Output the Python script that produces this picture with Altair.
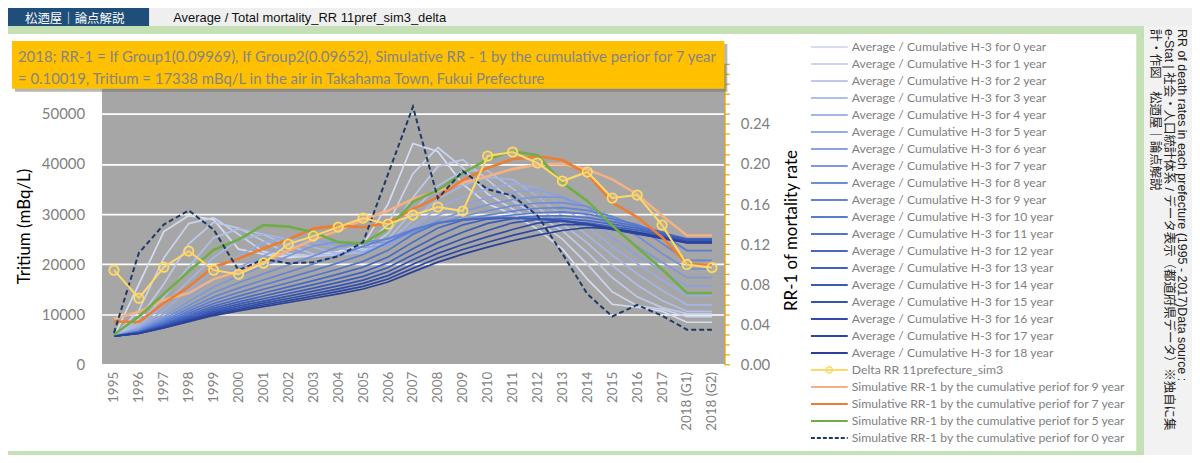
import altair as alt
import pandas as pd

# ---------------- data ----------------
years = [str(y) for y in range(1995, 2018)] + ["2018 (G1)", "2018 (G2)"]

h3_00 = [5600, 16000, 26500, 29700, 28900, 23000, 22000, 21300, 21700, 22500, 23900, 32000, 44100, 42500, 36000, 32000, 30000, 27000, 23000, 17000, 12000, 11400, 10600, 8400, 8400]
h3_01 = [5600, 10800, 21250, 28100, 29300, 25950, 22500, 21650, 21500, 22100, 23200, 27950, 38050, 43300, 39250, 34000, 31000, 28500, 25000, 20000, 14500, 11700, 11000, 9500, 9500]
h3_02 = [5600, 9070, 16030, 24070, 28370, 27200, 24630, 22100, 21670, 21830, 22700, 26130, 33330, 39530, 40870, 36830, 32670, 29670, 26670, 22330, 17330, 13470, 11330, 10130, 10130]
h3_03 = [5600, 8200, 13430, 19450, 25280, 27030, 25900, 23800, 22000, 21880, 22350, 25030, 30630, 35630, 38650, 38650, 35130, 31250, 28000, 24250, 19750, 15850, 12750, 10600, 10600]
h3_04 = [5600, 7680, 11860, 16680, 21340, 24820, 26020, 24980, 23380, 22100, 22280, 24280, 28840, 33000, 35700, 37320, 36920, 33500, 29600, 25800, 21800, 18080, 14800, 11880, 11880]
h3_05 = [5600, 7330, 10820, 14830, 18720, 21620, 24350, 25230, 24430, 23230, 22400, 23900, 27580, 31120, 33500, 35080, 36100, 35270, 31750, 27500, 23500, 20070, 16830, 13730, 13730]
h3_06 = [5600, 7090, 10070, 13510, 16840, 19330, 21670, 23910, 24730, 24160, 23330, 23770, 26790, 29710, 31810, 33290, 34360, 34800, 33510, 29640, 25290, 21770, 18710, 15630, 15630]
h3_07 = [5600, 6900, 9510, 12530, 15440, 17610, 19660, 21630, 23640, 24450, 24130, 24410, 26310, 28750, 30500, 31840, 32880, 33440, 33330, 31450, 27440, 23550, 20380, 17338, 17338]
h3_08 = [5600, 6760, 9080, 11760, 14340, 16280, 18100, 19840, 21630, 23510, 24390, 25000, 26600, 28110, 29560, 30670, 31630, 32220, 32280, 31510, 29290, 25660, 22110, 19040, 19040]
h3_09 = [5600, 6640, 8730, 11140, 13470, 15210, 16850, 18420, 20030, 21720, 23550, 25150, 26910, 28190, 28900, 29800, 30600, 31170, 31300, 30750, 29560, 27500, 24150, 20740, 20740]
h3_10 = [5600, 6550, 8450, 10640, 12760, 14340, 15830, 17260, 18720, 20260, 21920, 24320, 26870, 28330, 28900, 29180, 29820, 30270, 30430, 30000, 29050, 27910, 25960, 22720, 22720]
h3_11 = [5600, 6470, 8210, 10220, 12160, 13610, 14980, 16280, 17630, 19030, 20560, 22760, 25970, 28180, 28970, 29160, 29250, 29580, 29670, 29310, 28500, 27580, 26470, 24500, 24500]
h3_12 = [5600, 6400, 8010, 9860, 11650, 12990, 14250, 15460, 16700, 18000, 19410, 21440, 24400, 27240, 28780, 29200, 29220, 29080, 29080, 28690, 27980, 27190, 26270, 25080, 25080]
h3_13 = [5600, 6340, 7840, 9560, 11220, 12460, 13640, 14760, 15910, 17110, 18420, 20310, 23060, 25690, 27860, 29010, 29260, 29060, 28640, 28210, 27500, 26790, 26000, 24990, 24990]
h3_14 = [5600, 6290, 7690, 9290, 10850, 12010, 13100, 14150, 15220, 16350, 17570, 19330, 21890, 24350, 26380, 28140, 29070, 29110, 28660, 27870, 27130, 26430, 25710, 24830, 24830]
h3_15 = [5600, 6250, 7560, 9060, 10520, 11610, 12630, 13610, 14620, 15680, 16820, 18470, 20880, 23180, 25080, 26730, 28260, 28940, 28730, 27930, 26880, 26150, 25440, 24630, 24630]
h3_16 = [5600, 6210, 7440, 8860, 10230, 11250, 12220, 13140, 14090, 15080, 16160, 17710, 19980, 22150, 23940, 25490, 26920, 28180, 28590, 28040, 26990, 25970, 25240, 24440, 24440]
h3_17 = [5600, 6180, 7340, 8680, 9970, 10940, 11850, 12720, 13620, 14560, 15570, 17040, 19180, 21230, 22920, 24380, 25740, 26930, 27890, 27950, 27140, 26130, 25110, 24300, 24300]
h3_18 = [5600, 6150, 7250, 8520, 9740, 10660, 11520, 12350, 13200, 14080, 15050, 16440, 18460, 20410, 22010, 23400, 24680, 25810, 26720, 27320, 27110, 26320, 25310, 24230, 24230]

delta_rr = [0.094, 0.066, 0.097, 0.113, 0.094, 0.090, 0.101, 0.120, 0.128, 0.137, 0.146, 0.140, 0.149, 0.157, 0.153, 0.208, 0.212, 0.201, 0.183, 0.192, 0.166, 0.169, 0.139, 0.09969, 0.09652]
sim_rr_9 = [0.0455, 0.0524, 0.0643, 0.0712, 0.0851, 0.0930, 0.1019, 0.1137, 0.1246, 0.1335, 0.1444, 0.1533, 0.1652, 0.1731, 0.1813, 0.1879, 0.1949, 0.1995, 0.2001, 0.1946, 0.1847, 0.1698, 0.1484, 0.1286, 0.1286]
sim_rr_7 = [0.0428, 0.0422, 0.0610, 0.0774, 0.0972, 0.1055, 0.1157, 0.1246, 0.1355, 0.1385, 0.1368, 0.1414, 0.1550, 0.1670, 0.1840, 0.1960, 0.2047, 0.2077, 0.2040, 0.1900, 0.1615, 0.1470, 0.1270, 0.10019, 0.0995]
sim_rr_5 = [0.0297, 0.0478, 0.0702, 0.0930, 0.1142, 0.1246, 0.1390, 0.1375, 0.1320, 0.1220, 0.1207, 0.1355, 0.1622, 0.1741, 0.1909, 0.2047, 0.2127, 0.2087, 0.1813, 0.1632, 0.1385, 0.1167, 0.0950, 0.0712, 0.0712]
sim_rr_0 = [0.0314, 0.1113, 0.1395, 0.1537, 0.1345, 0.0940, 0.1048, 0.1009, 0.1019, 0.1078, 0.1220, 0.1899, 0.2572, 0.1657, 0.1929, 0.1748, 0.1684, 0.1484, 0.1105, 0.0702, 0.0478, 0.0593, 0.0485, 0.0346, 0.0346]

blue_series = [h3_00, h3_01, h3_02, h3_03, h3_04, h3_05, h3_06, h3_07, h3_08, h3_09,
               h3_10, h3_11, h3_12, h3_13, h3_14, h3_15, h3_16, h3_17, h3_18]
blue_names = ["Average / Cumulative H-3 for %d year" % k for k in range(19)]
blue_colors = ["#D6DCF2", "#CAD3EF", "#BECAEC", "#B1C0E9", "#A4B6E6", "#97ACE3", "#8AA2E0",
               "#7D98DC", "#708ED8", "#6585D4", "#5A7CD0", "#5073CB", "#4769C5", "#4061BF",
               "#3A5AB8", "#3553B0", "#314CA8", "#2D46A0", "#2A4198"]

rr_names = ["Delta RR 11prefecture_sim3",
            "Simulative RR-1 by the cumulative periof for 9 year",
            "Simulative RR-1 by the cumulative periof for 7 year",
            "Simulative RR-1 by the cumulative periof for 5 year",
            "Simulative RR-1 by the cumulative periof for 0 year"]
rr_series = [delta_rr, sim_rr_9, sim_rr_7, sim_rr_5, sim_rr_0]
rr_colors = ["#FFD966", "#F4B183", "#ED7D31", "#70AD47", "#1F3864"]

title_line1 = "2018; RR-1 = If Group1(0.09969), If Group2(0.09652),  Simulative RR - 1 by the cumulative perior for 7 year"
title_line2 = "= 0.10019, Tritium  = 17338  mBq/L in the air in Takahama Town, Fukui Prefecture"
side_col1 = "RR of death rates in each prefecture (1995 - 2017)Data source :"
side_col2 = "e-Stat | 社会・人口統計体系 / データ表示（都道府県データ）※独自に集"
side_col3 = "計・作図　松迺屋｜論点解説"

# ---------------- tables ----------------
blue_rows = []
for name, vals in zip(blue_names, blue_series):
    for yr, v in zip(years, vals):
        blue_rows.append({"series": name, "year": yr, "value": v})
df_blue = pd.DataFrame(blue_rows)

rr_rows = []
for name, vals in zip(rr_names, rr_series):
    for yr, v in zip(years, vals):
        rr_rows.append({"series": name, "year": yr, "rr": v})
df_rr = pd.DataFrame(rr_rows)

all_names = blue_names + rr_names
df_leg = pd.DataFrame({"series": all_names})

color_scale = alt.Scale(domain=all_names, range=blue_colors + rr_colors)
FONT = "Lato"
GRAY = "#7F7F7F"

# page-coordinate helpers (plot origin on page = (102, 63))
OX, OY = 102, 63
one = alt.Data(values=[{"k": 1}])


def box(x1, y1, x2, y2, color, opacity=1.0):
    return alt.Chart(one).mark_rect(color=color, opacity=opacity).encode(
        x=alt.value(x1 - OX), x2=alt.value(x2 - OX),
        y=alt.value(y1 - OY), y2=alt.value(y2 - OY))


def label(x, y, s, size, color, font, angle=0, align="left"):
    mk = dict(fontSize=size, color=color, font=font, align=align, baseline="middle")
    if angle:
        mk["angle"] = angle
    return alt.Chart(one).mark_text(**mk).encode(
        x=alt.value(x - OX), y=alt.value(y - OY), text=alt.value(s))


xaxis = alt.Axis(labelAngle=270, domain=False, ticks=False, labelFont=FONT,
                 labelFontSize=13.5, labelColor=GRAY, labelPadding=7, title=None,
                 labelOverlap=False)
xenc = alt.X("year:O", scale=alt.Scale(domain=years), sort=years, axis=xaxis, title=None)

left_axis = alt.Axis(orient="left", values=[0, 10000, 20000, 30000, 40000, 50000, 60000],
                     labelExpr="datum.value > 55000 ? '' : datum.label",
                     format="d", grid=True, gridColor="white", gridWidth=1.6,
                     domain=False, ticks=False, labelFont=FONT, labelFontSize=15,
                     labelColor=GRAY, labelPadding=17, title="Tritium (mBq/L)",
                     titleFont=FONT, titleFontSize=17, titleFontWeight="normal",
                     titleColor="black", titleAngle=270, titleX=-77, titleY=163,
                     titleAlign="center", titleBaseline="middle")

right_axis = alt.Axis(orient="right", values=[round(i * 0.01, 2) for i in range(31)],
                      labelExpr="(datum.value < 0.245 && round(datum.value * 100) % 4 == 0) ? format(datum.value, '.2f') : ''",
                      labelOverlap=False, grid=False, domainColor="#D9A520", domainWidth=1.6,
                      tickColor="#D9A520", tickSize=5, tickWidth=1.2,
                      labelFont=FONT, labelFontSize=15, labelColor=GRAY, labelPadding=11,
                      title="RR-1 of mortality rate", titleFont=FONT, titleFontSize=17,
                      titleFontWeight="normal", titleColor="black", titleAngle=270,
                      titleX=67, titleY=167, titleAlign="center", titleBaseline="middle")

yL = alt.Y("value:Q", scale=alt.Scale(domain=[0, 60000]), axis=left_axis)
yR = alt.Y("rr:Q", scale=alt.Scale(domain=[0, 0.30]), axis=right_axis)
cenc = alt.Color("series:N", scale=color_scale, legend=None)

blue = alt.Chart(df_blue).mark_line(strokeWidth=1.7).encode(x=xenc, y=yL, color=cenc)


def rr_line(name, **kw):
    return alt.Chart(df_rr).transform_filter(alt.datum.series == name).mark_line(**kw).encode(
        x=xenc, y=yR, color=cenc)


right = alt.layer(
    rr_line(rr_names[1], strokeWidth=2.6),
    rr_line(rr_names[2], strokeWidth=2.6),
    rr_line(rr_names[3], strokeWidth=2.6),
    rr_line(rr_names[4], strokeWidth=2.0, strokeDash=[5, 3]),
    rr_line(rr_names[0], strokeWidth=2.0),
    alt.Chart(df_rr).transform_filter(alt.datum.series == rr_names[0]).mark_point(
        shape="circle", size=90, filled=True, fill="#D8C98A", fillOpacity=0.25,
        stroke="#FFD966", strokeWidth=1.8, opacity=1).encode(x=xenc, y=yR),
)

# legend built from the series table
yLeg = alt.Y("series:N", scale=alt.Scale(type="point", domain=all_names, range=[-17, 376], padding=0), axis=None)
dash_name = rr_names[4]
legend = alt.layer(
    alt.Chart(df_leg).transform_filter(alt.datum.series != dash_name).mark_rule(strokeWidth=2).encode(
        x=alt.value(713), x2=alt.value(750), y=yLeg, color=cenc),
    alt.Chart(df_leg).transform_filter(alt.datum.series == dash_name).mark_rule(strokeWidth=2, strokeDash=[4, 2]).encode(
        x=alt.value(713), x2=alt.value(750), y=yLeg, color=cenc),
    alt.Chart(df_leg).transform_filter(alt.datum.series == rr_names[0]).mark_point(
        shape="circle", size=40, filled=False, stroke="#FFD966", strokeWidth=1.5, opacity=1).encode(
        x=alt.value(731.5), y=yLeg),
    alt.Chart(df_leg).mark_text(align="left", baseline="middle", font=FONT, fontSize=12.3, color=GRAY).encode(
        x=alt.value(754), y=yLeg, text="series:N"),
)

GREEN = "#C5E0B4"
back = [
    box(0, 0, 150, 25, "#1F4E79"),
    box(150, 0, 1200, 25, "#EFEFEF"),
    box(0, 25, 1150, 33, GREEN),
    box(0, 452, 1150, 463, GREEN),
    box(0, 25, 8, 463, GREEN),
    box(1142, 25, 1150, 463, GREEN),
    box(1150, 25, 1200, 463, "#F2F2F2"),
]
front = [
    box(15, 43, 731, 91, "#6F6F6F", 0.5),
    box(12, 40, 728, 88, "#FFC000"),
    label(18, 56, title_line1, 15, "#858585", FONT),
    label(18, 78, title_line2, 15, "#858585", FONT),
    label(75, 17.5, "松迺屋｜論点解説", 12.5, "white", "Noto Sans CJK JP", align="center"),
    label(174, 17, "Average / Total mortality_RR 11pref_sim3_delta", 13, "#111111", "Liberation Sans"),
    label(1188, 28, side_col1, 12.5, "#222222", "Liberation Sans, Noto Sans CJK JP", angle=90),
    label(1175, 28, side_col2, 12.5, "#222222", "Liberation Sans, Noto Sans CJK JP", angle=90),
    label(1161, 28, side_col3, 12.5, "#222222", "Liberation Sans, Noto Sans CJK JP", angle=90),
]

chart = alt.layer(*back, blue, right, legend, *front).resolve_scale(
    y="independent"
).properties(
    width=626, height=302,
    autosize=alt.AutoSizeParams(type="none"),
    padding={"left": 94, "top": 55, "right": 470, "bottom": 90},
    background="white",
).configure_view(fill="#A6A6A6", stroke="transparent")

chart.save("out.html", embed_options={"renderer": "svg", "actions": False})
